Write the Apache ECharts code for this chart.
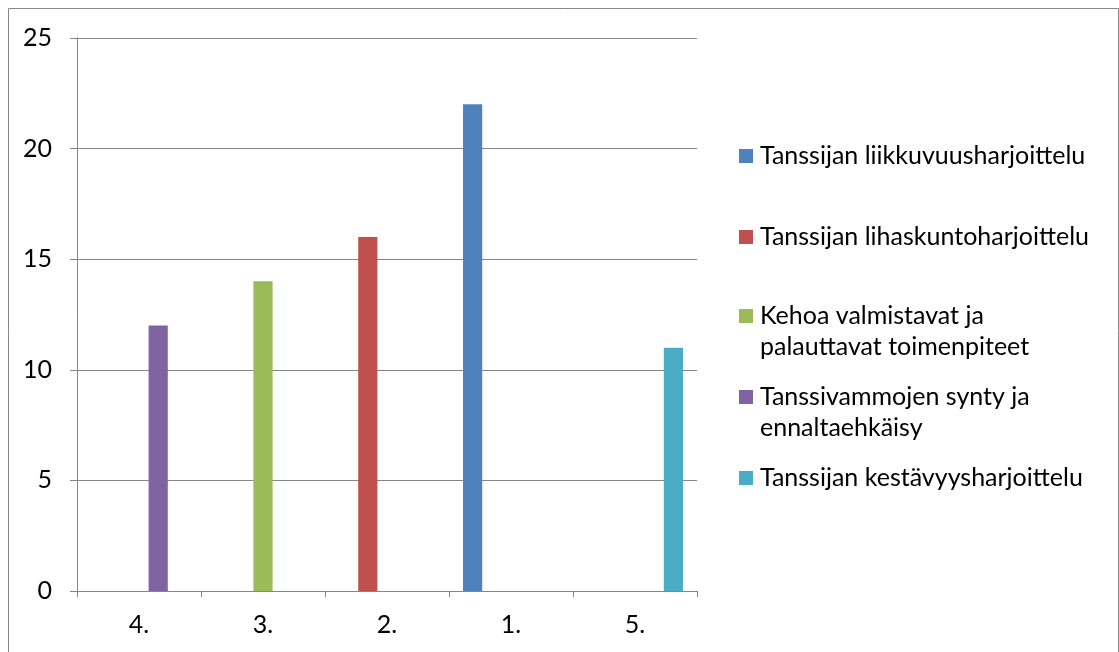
<!DOCTYPE html>
<html>
<head>
<meta charset="utf-8">
<script src="https://cdn.jsdelivr.net/npm/echarts@6/dist/echarts.min.js"></script>
<style>
  html, body { margin: 0; padding: 0; background: #fff; }
  #chart { width: 1119px; height: 652px; }
</style>
</head>
<body>
<div id="chart"></div>
<script>
// Categories along the x axis (ranking order)
const categories = ['4.', '3.', '2.', '1.', '5.'];

// Series names
const seriesNames = [
  'Tanssijan liikkuvuusharjoittelu',
  'Tanssijan lihaskuntoharjoittelu',
  'Kehoa valmistavat ja palauttavat toimenpiteet',
  'Tanssivammojen synty ja ennaltaehkäisy',
  'Tanssijan kestävyysharjoittelu'
];

// Values for each series, one per category
const liikkuvuus = [null, null, null, 22, null];
const lihaskunto = [null, null, 16, null, null];
const valmistavat = [null, 14, null, null, null];
const vammat = [12, null, null, null, null];
const kestavyys = [null, null, null, null, 11];

// Y axis ticks
const yMin = 0, yMax = 25, yStep = 5;

const seriesValues = [liikkuvuus, lihaskunto, valmistavat, vammat, kestavyys];
const colors = ['#4F81BD', '#C0504D', '#9BBB59', '#8064A2', '#4BACC6'];

// Legend text wraps after these words
const wrapAt = {
  'Kehoa valmistavat ja palauttavat toimenpiteet': ['Kehoa valmistavat ja', 'palauttavat toimenpiteet'],
  'Tanssivammojen synty ja ennaltaehkäisy': ['Tanssivammojen synty ja', 'ennaltaehkäisy']
};

const FONT = 'Lato, "Open Sans", sans-serif';
const FONT_SIZE = 25;
const LINE_H = 31;
// vertical centre of each legend entry's first line
const legendCenters = [156, 237, 316, 397, 478];

// A wrapped entry gets an empty leading line so that the marker sits
// beside its first line instead of between the two lines.
const legends = seriesNames.map((name, i) => {
  const twoLine = !!wrapAt[name];
  const top = twoLine ? legendCenters[i] - LINE_H * 1.5 : legendCenters[i] - LINE_H / 2;
  return {
    left: 739,
    top: top,
    orient: 'vertical',
    padding: 0,
    icon: 'rect',
    itemWidth: 14,
    itemHeight: 14,
    selectedMode: false,
    formatter: n => wrapAt[n] ? ' \n' + wrapAt[n].join('\n') : n,
    textStyle: {
      fontFamily: FONT,
      fontSize: FONT_SIZE,
      color: '#000',
      lineHeight: LINE_H,
      padding: [0, 0, 0, 2]
    },
    data: [name]
  };
});

const chart = echarts.init(document.getElementById('chart'), null, { renderer: 'canvas' });

chart.setOption({
  animation: false,
  backgroundColor: '#fff',
  color: colors,
  graphic: [{
    type: 'rect',
    shape: { x: 8.5, y: 8.5, width: 1110, height: 700 },
    style: { fill: 'none', stroke: '#888', lineWidth: 1 },
    silent: true
  }],
  grid: { left: 77, top: 38, right: 422, bottom: 61, containLabel: false },
  legend: legends,
  xAxis: {
    type: 'category',
    data: categories,
    axisLine: { lineStyle: { color: '#868686', width: 1 } },
    axisTick: { show: true, length: 6, lineStyle: { color: '#868686' } },
    axisLabel: { fontFamily: FONT, fontSize: FONT_SIZE, color: '#000', margin: 21 },
    splitLine: { show: false }
  },
  yAxis: {
    type: 'value',
    min: yMin,
    max: yMax,
    interval: yStep,
    axisLine: { show: true, lineStyle: { color: '#868686', width: 1 } },
    axisTick: { show: true, length: 7, lineStyle: { color: '#868686' } },
    axisLabel: { fontFamily: FONT, fontSize: FONT_SIZE, color: '#000', margin: 25 },
    splitLine: { lineStyle: { color: '#868686', width: 1 } }
  },
  series: seriesNames.map((name, i) => ({
    name: name,
    type: 'bar',
    data: seriesValues[i],
    barGap: 0,
    barCategoryGap: '22.6%',
    itemStyle: { color: colors[i] }
  }))
});
</script>
</body>
</html>
